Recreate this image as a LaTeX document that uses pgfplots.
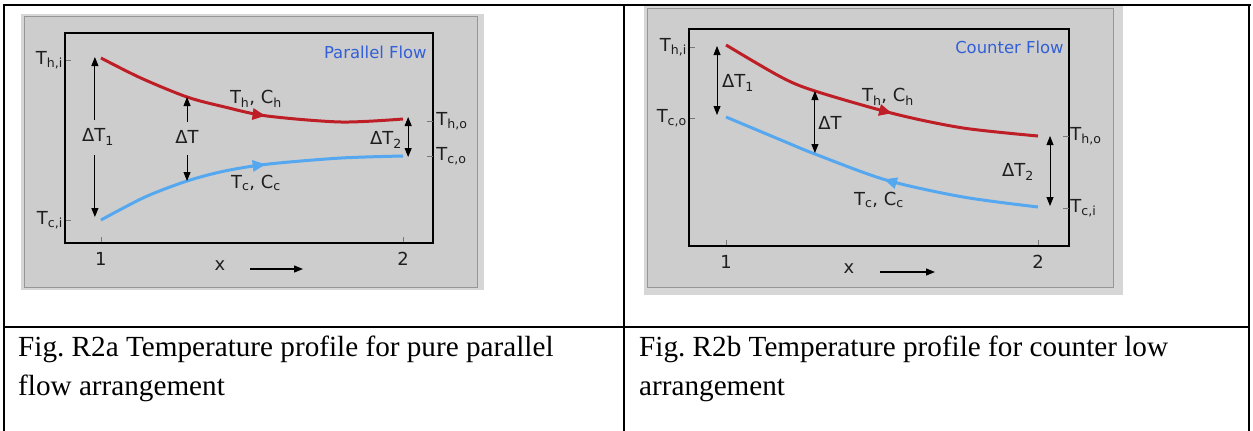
\documentclass[border=0pt]{standalone}
\usepackage{pgfplots}
\pgfplotsset{compat=1.18}
\usepackage{fontspec}
\setmainfont{Liberation Serif}
\newfontfamily\chartfont{DejaVu Sans}
\usetikzlibrary{arrows.meta,decorations.markings}

\definecolor{panelgray}{RGB}{205,205,205}
\definecolor{panelrim}{RGB}{214,214,214}
\definecolor{paneledge}{RGB}{150,150,150}
\definecolor{hotred}{RGB}{190,30,38}
\definecolor{coldblue}{RGB}{85,168,240}
\definecolor{titleblue}{RGB}{50,95,215}
\definecolor{tickgray}{RGB}{120,120,120}
\definecolor{labtext}{RGB}{30,30,30}

\pgfplotsset{
  profile/.style={
    scale only axis, anchor=south west, clip=false,
    axis line style={black, line width=1.3bp},
    axis background/.style={fill=panelgray},
    tick style={tickgray, line width=0.8bp},
    major tick length=6bp, tick align=inside, tick pos=left,
    xtick={1,2}, xticklabels={1,2},
    ticklabel style={font=\chartfont\fontsize{18}{18}\selectfont, text=labtext, inner sep=2bp},
    xticklabel style={yshift=-7bp},
    xmin=0.881, xmax=2.0993, ymin=0,
  },
  hot/.style={hotred, line width=3bp, smooth},
  cold/.style={coldblue, line width=3bp, smooth},
  fwd/.style={postaction={decorate}, decoration={markings,
      mark=at position #1 with {\arrow{Triangle[length=13bp,width=11bp]}}}},
  back/.style={postaction={decorate}, decoration={markings,
      mark=at position #1 with {\arrowreversed{Triangle[length=13bp,width=11bp]}}}},
}
\tikzset{
  ann/.style={black, line width=0.9bp, -{Triangle[length=9bp,width=7bp]}},
  dbl/.style={black, line width=0.9bp, {Triangle[length=9bp,width=7bp]}-{Triangle[length=9bp,width=7bp]}},
  lab/.style={font=\chartfont\fontsize{18}{18}\selectfont, text=labtext, inner sep=1bp},
  ttl/.style={font=\chartfont\fontsize{16.5}{16.5}\selectfont, text=titleblue, inner sep=0bp},
  captext/.style={font=\fontsize{29.3}{38}\selectfont, anchor=base west, inner sep=0bp},
}

\begin{document}
\begin{tikzpicture}[x=1bp, y=1bp]
\useasboundingbox (0,0) rectangle (1253,-430);

% grey picture panels
\fill[panelrim] (21,-14) rectangle (484,-290);
\filldraw[fill=panelgray, draw=paneledge, line width=1bp] (24,-16) rectangle (477,-287);
\fill[panelrim] (644,-6) rectangle (1123,-295);
\filldraw[fill=panelgray, draw=paneledge, line width=1bp] (647,-8) rectangle (1113,-287);

% parallel flow
\begin{axis}[profile, at={(65bp,-243bp)}, width=368bp, height=210bp,
  ymax=210, ytick={23,183}, yticklabels={T\textsubscript{c,i}, T\textsubscript{h,i}}]
\addplot[hot, fwd=0.56] coordinates {(1,185) (1.132,165) (1.285,146) (1.41,136) (1.55,127) (1.795,121) (2,124)};
\addplot[cold, fwd=0.56] coordinates {(1,23) (1.146,46) (1.285,62) (1.41,72) (1.556,79) (1.795,85) (2,87)};

\draw[ann] (axis cs:0.98,123) -- (axis cs:0.98,186);
\draw[ann] (axis cs:0.98,88) -- (axis cs:0.98,26);
\node[lab] at (axis cs:0.99,106) {ΔT\textsubscript{1}};
\draw[ann] (axis cs:1.285,121) -- (axis cs:1.285,146);
\draw[ann] (axis cs:1.285,88) -- (axis cs:1.285,62);
\node[lab] at (axis cs:1.285,106) {ΔT};
\draw[dbl] (axis cs:2.017,126) -- (axis cs:2.017,86);
\node[lab, anchor=east] at (axis cs:2.0,103) {ΔT\textsubscript{2}};
\node[lab] at (axis cs:1.513,144) {T\textsubscript{h}, C\textsubscript{h}};
\node[lab] at (axis cs:1.513,60) {T\textsubscript{c}, C\textsubscript{c}};
\node[ttl, anchor=east] at (axis cs:2.079,191) {Parallel Flow};

\draw[tickgray, line width=0.8bp] (axis cs:2.0993,122) ++(-6bp,0bp) -- ++(6bp,0bp)
  node[lab, anchor=west, inner sep=3bp] {T\textsubscript{h,o}};
\draw[tickgray, line width=0.8bp] (axis cs:2.0993,87) ++(-6bp,0bp) -- ++(6bp,0bp)
  node[lab, anchor=west, inner sep=3bp] {T\textsubscript{c,o}};
\end{axis}

% counter flow
\begin{axis}[profile, at={(689bp,-246bp)}, width=380bp, height=217bp,
  xmin=0.8814, xmax=2.0994,
  ymax=217, ytick={128,199}, yticklabels={T\textsubscript{c,o}, T\textsubscript{h,i}}]
\addplot[hot, fwd=0.55] coordinates {(1,201) (1.176,169) (1.285,155) (1.542,132) (1.76,118) (2.0,110)};
\addplot[cold, back=0.52] coordinates {(1,129) (1.176,106) (1.285,92) (1.513,66) (1.76,49) (2.0,39)};

\draw[dbl] (axis cs:0.9712,200) -- (axis cs:0.9712,131);
\node[lab, anchor=west] at (axis cs:0.984,163) {ΔT\textsubscript{1}};
\draw[dbl] (axis cs:1.285,155) -- (axis cs:1.285,93);
\node[lab, anchor=west] at (axis cs:1.292,123) {ΔT};
\draw[dbl] (axis cs:2.0385,110) -- (axis cs:2.0385,40);
\node[lab] at (axis cs:1.936,74) {ΔT\textsubscript{2}};
\node[lab] at (axis cs:1.519,149) {T\textsubscript{h}, C\textsubscript{h}};
\node[lab] at (axis cs:1.49,46) {T\textsubscript{c}, C\textsubscript{c}};
\node[ttl, anchor=east] at (axis cs:2.083,199) {Counter Flow};

\draw[tickgray, line width=0.8bp] (axis cs:2.0994,110) ++(-6bp,0bp) -- ++(6bp,0bp)
  node[lab, anchor=west, inner sep=1bp] {T\textsubscript{h,o}};
\draw[tickgray, line width=0.8bp] (axis cs:2.0994,38) ++(-6bp,0bp) -- ++(6bp,0bp)
  node[lab, anchor=west, inner sep=1bp] {T\textsubscript{c,i}};
\end{axis}

% x labels
\node[lab] at (220,-266) {x};
\draw[black, line width=1.2bp, -{Triangle[length=9bp,width=7bp]}] (250,-269) -- (303,-269);
\node[lab] at (849,-269) {x};
\draw[black, line width=1.2bp, -{Triangle[length=9bp,width=7bp]}] (880,-272) -- (935,-272);

% table rules
\draw[black, line width=2.5bp] (3,-5) -- (1251,-5);
\draw[black, line width=2.5bp] (4,-5) -- (4,-431);
\draw[black, line width=2.5bp] (624,-5) -- (624,-431);
\draw[black, line width=2.5bp] (1249,-5) -- (1249,-431);
\draw[black, line width=2.5bp] (4,-327) -- (1249,-327);

% captions
\node[captext] at (18,-356) {Fig.\ R2a Temperature profile for pure parallel};
\node[captext] at (18,-395) {flow arrangement};
\node[captext] at (639,-356) {Fig.\ R2b Temperature profile for counter low};
\node[captext] at (639,-395) {arrangement};
\end{tikzpicture}
\end{document}
